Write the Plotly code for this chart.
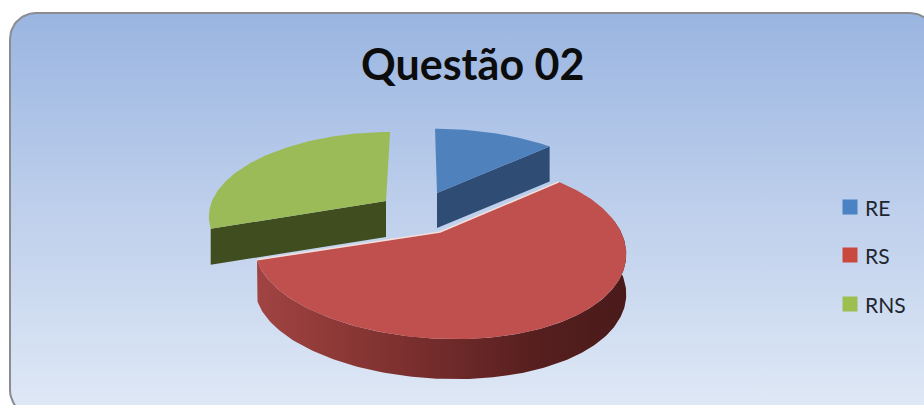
import math
import plotly.graph_objects as go

# Data
categories = ["RE", "RS", "RNS"]
values = [13, 57, 30]
title_text = "Questão 02"

# Styles
top_colors = ["#4f81bd", "#c0504d", "#9bbb59"]
side_colors = ["#2f4d74", "#7a2f2d", "#3f4d1f"]
apex = [(437, 193), (440, 232), (386, 201)]
depths = [35, 40, 36]
rx_list = [181, 181, 174]
ry_list = [78, 84, 84]
skew_far = [2.4, -10, -5]
K, SKEW_NEAR = 0.216, 12


def project(deg, i):
    cx, cy = apex[i]
    t = math.radians(deg)
    u, v = math.sin(t), -math.cos(t)
    s = 1 / (1 - K * v)
    skew = skew_far[i] + (SKEW_NEAR - skew_far[i]) * (v + 1) / 2
    return cx + rx_list[i] * u * s + skew * v * s, cy + ry_list[i] * v * s


def arc(a0, a1, i):
    n = max(2, int(abs(a1 - a0)) + 1)
    pts = [project(a0 + (a1 - a0) * j / (n - 1), i) for j in range(n)]
    return [p[0] for p in pts], [p[1] for p in pts]


fig = go.Figure()

# Rounded panel with vertical gradient
L, T, R, B, C = 10, 13, 936, 416, 26
px, py = [], []
for ccx, ccy, start in [(L + C, T + C, 180), (R - C, T + C, 270), (R - C, B - C, 0), (L + C, B - C, 90)]:
    for j in range(19):
        a = math.radians(start + 5 * j)
        px.append(ccx + C * math.cos(a))
        py.append(ccy + C * math.sin(a))
px.append(px[0])
py.append(py[0])
fig.add_trace(go.Scatter(
    x=px, y=py, mode="lines", fill="toself",
    line=dict(color="#8a8d90", width=2),
    fillgradient=dict(type="vertical", colorscale=[[0, "#e0e9f6"], [0.5, "#bfd0ec"], [1, "#9ab5e1"]]),
    hoverinfo="skip", showlegend=False))

# Slices
bounds = []
acc = 0
total = sum(values)
for val in values:
    bounds.append((acc / total * 360, (acc + val) / total * 360))
    acc += val

for i in [0, 2, 1]:
    a0, a1 = bounds[i]
    cx, cy = apex[i]
    d = depths[i]
    ax, ay = arc(a0, a1, i)
    if i == 1:
        sx, sy = arc(82, a1, i)
        fig.add_trace(go.Scatter(
            x=sx + sx[::-1],
            y=sy + [p + d for p in sy[::-1]],
            mode="lines", fill="toself", line=dict(width=0),
            fillgradient=dict(type="horizontal", colorscale=[
                [0, "#a04442"], [0.2, "#8f3a38"], [0.5, "#712b2a"], [0.75, "#571f1f"], [1, "#4a1a1a"]]),
            hoverinfo="skip", showlegend=False))
    else:
        ex, ey = (ax[-1], ay[-1]) if i == 0 else (ax[0], ay[0])
        fig.add_trace(go.Scatter(
            x=[cx, ex, ex, cx, cx], y=[cy, ey, ey + d, cy + d, cy],
            mode="lines", fill="toself", line=dict(width=0, color=side_colors[i]),
            fillcolor=side_colors[i], hoverinfo="skip", showlegend=False))
    fig.add_trace(go.Scatter(
        x=[cx] + ax + [cx], y=[cy] + ay + [cy],
        mode="lines", fill="toself", line=dict(width=0, color=top_colors[i]),
        fillcolor=top_colors[i], name=categories[i], hoverinfo="skip", showlegend=False))
    if i == 1:
        fig.add_trace(go.Scatter(
            x=[ax[-1], cx, ax[0]], y=[ay[-1], cy, ay[0]], mode="lines",
            line=dict(color="#f3dfdc", width=1.5), hoverinfo="skip", showlegend=False))

# Legend
legend_y = [207, 255, 304]
fig.add_trace(go.Scatter(
    x=[850] * 3, y=legend_y, mode="markers",
    marker=dict(symbol="square", size=15, color=["#4a82c3", "#c9493f", "#9cbf4f"]),
    hoverinfo="skip", showlegend=False))
for name, y in zip(categories, legend_y):
    fig.add_annotation(x=865, y=y, text=name, showarrow=False, xanchor="left", yanchor="middle",
                       font=dict(family="Lato", size=21, color="#20252e"), xshift=-2)

fig.add_annotation(x=472, y=63, text=title_text, showarrow=False, xanchor="center", yanchor="middle",
                   font=dict(family="Lato", size=43, color="#0c0c0c", weight="bold"))

fig.update_layout(
    width=924, height=405, margin=dict(l=0, r=0, t=0, b=0),
    paper_bgcolor="white", plot_bgcolor="white", showlegend=False,
    xaxis=dict(range=[0, 924], visible=False, fixedrange=True),
    yaxis=dict(range=[405, 0], visible=False, fixedrange=True))
fig.write_html("out.html", config={"displayModeBar": False},
               post_script="document.body.style.margin='0';document.body.style.overflow='hidden';")
